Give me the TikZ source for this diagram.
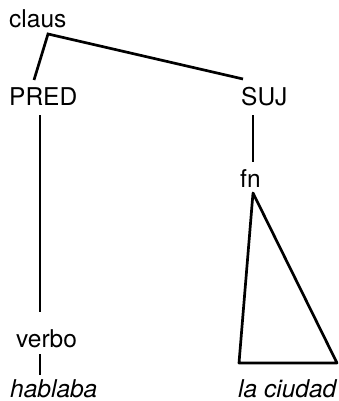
\documentclass[tikz,border=0pt]{standalone}
\usepackage{fontspec}
\setmainfont{TeX Gyre Heros}
\begin{document}
\begin{tikzpicture}[x=1pt,y=-1pt,
  lbl/.style={inner sep=0pt,anchor=base west,font=\fontsize{24.5}{28}\selectfont},
  ilbl/.style={lbl,font=\fontsize{24.5}{28}\selectfont\itshape},
  edge/.style={line width=2.7pt,line cap=butt,line join=miter}]
\useasboundingbox (0,0) rectangle (339,401);
% text nodes
\node[lbl]  (claus)   at (9,28)  {claus};
\node[lbl]  (PRED)    at (9,106) {PRED};
\node[lbl]  (SUJ)     at (241,106) {SUJ};
\node[lbl]  (fn)      at (240,187) {fn};
\node[lbl]  (verbo)   at (16,347) {verbo};
\node[ilbl] (hablaba) at (10,397) {hablaba};
\node[ilbl] (ciudad)  at (238,397) {la ciudad};
% connector end points
\coordinate (cl) at (48,34);
\coordinate (pt) at (34,80);
\coordinate (st) at (243,79);
\coordinate (pb) at (40,115);
\coordinate (vt) at (40,312);
\coordinate (vb) at (40,354);
\coordinate (ht) at (40,375);
\coordinate (sb) at (253,115);
\coordinate (ft) at (253,162);
\coordinate (apex) at (253,193);
\coordinate (bl) at (239,363);
\coordinate (br) at (337,363);
% connectors
\draw[edge] (pt) -- (cl) -- (st);
\draw[edge] (pb) -- (vt);
\draw[edge] (vb) -- (ht);
\draw[edge] (sb) -- (ft);
\draw[edge,line join=round] (apex) -- (bl) -- (br) -- cycle;
\end{tikzpicture}
\end{document}
